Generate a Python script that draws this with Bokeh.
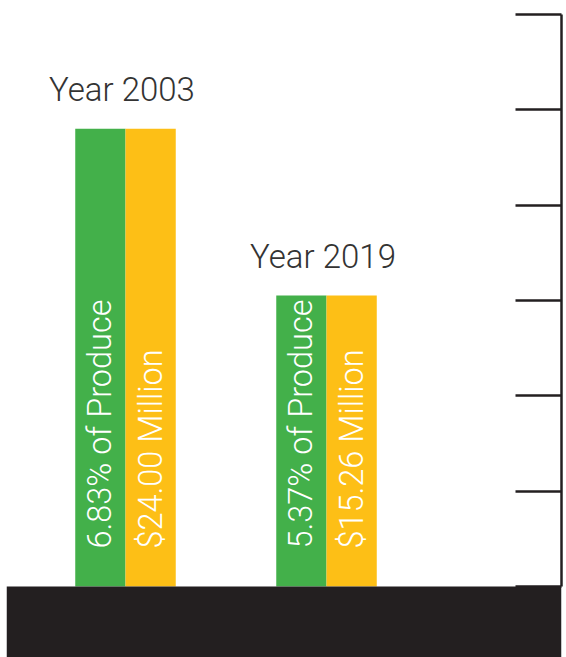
import numpy as np
from bokeh.plotting import figure
from bokeh.models import (ColumnDataSource, Range1d, LinearAxis, SingleIntervalTicker,
                          BoxAnnotation)
from bokeh.embed import file_html
from bokeh.resources import INLINE
from bokeh.core.properties import value

# --- data -------------------------------------------------------------
years = ["2003", "2019"]
share_pct = [6.83, 5.37]        # share of produce, %
value_musd = [24.00, 15.26]     # value, $ million

GREEN = "#43b04a"
YELLOW = "#fdbf16"
DARK = "#231f20"
FONT = "Roboto Light"

xs = np.arange(len(years), dtype=float)
src = ColumnDataSource(dict(
    x=xs,
    x_share=xs - 0.125,
    x_value=xs + 0.125,
    value=value_musd,
    base=[0.0] * len(years),
    title=[f"Year {y}" for y in years],
    share_label=[f"{v:.2f}% of Produce" for v in share_pct],
    value_label=[f"${v:.2f} Million" for v in value_musd],
))

p = figure(width=566, height=657, output_backend="svg", toolbar_location=None,
           x_range=Range1d(-0.592, 2.169), y_range=Range1d(-3.72, 30.73),
           x_axis_location=None, y_axis_location=None,
           min_border_left=6, min_border_right=5, min_border_top=0, min_border_bottom=0)
p.outline_line_color = None
p.xgrid.visible = False
p.ygrid.visible = False
p.background_fill_color = "white"
p.border_fill_color = "white"

# dark floor under the columns
p.add_layout(BoxAnnotation(top=0, fill_color=DARK, fill_alpha=1.0, line_color=None))

# paired columns
p.vbar(x="x_share", width=0.25, bottom="base", top="value", source=src,
       fill_color=GREEN, line_color=None)
p.vbar(x="x_value", width=0.25, bottom="base", top="value", source=src,
       fill_color=YELLOW, line_color=None)

# vertical labels inside the columns
for col, xcol in (("share_label", "x_share"), ("value_label", "x_value")):
    p.text(x=xcol, y="base", text=col, source=src, angle=np.pi / 2,
           text_align="left", text_baseline="middle", y_offset=-38,
           text_font=value(FONT), text_font_size="32.5px", text_color="white")

# year titles above each pair
p.text(x="x", y="value", text="title", source=src, text_align="center",
       text_baseline="alphabetic", x_offset=-3.5, y_offset=-39,
       text_font=value(FONT), text_font_size="33px", text_color="#333333")

# right-hand scale with inward ticks, no labels
axis = LinearAxis(ticker=SingleIntervalTicker(interval=5), bounds=(0, 30))
axis.axis_line_color = DARK
axis.axis_line_width = 2.5
axis.major_tick_line_color = DARK
axis.major_tick_line_width = 2.5
axis.major_tick_in = 46
axis.major_tick_out = 0
axis.minor_tick_line_color = None
axis.major_label_text_color = None
axis.major_label_standoff = 0
p.add_layout(axis, "right")

open("out.html", "w").write(file_html(p, INLINE))
